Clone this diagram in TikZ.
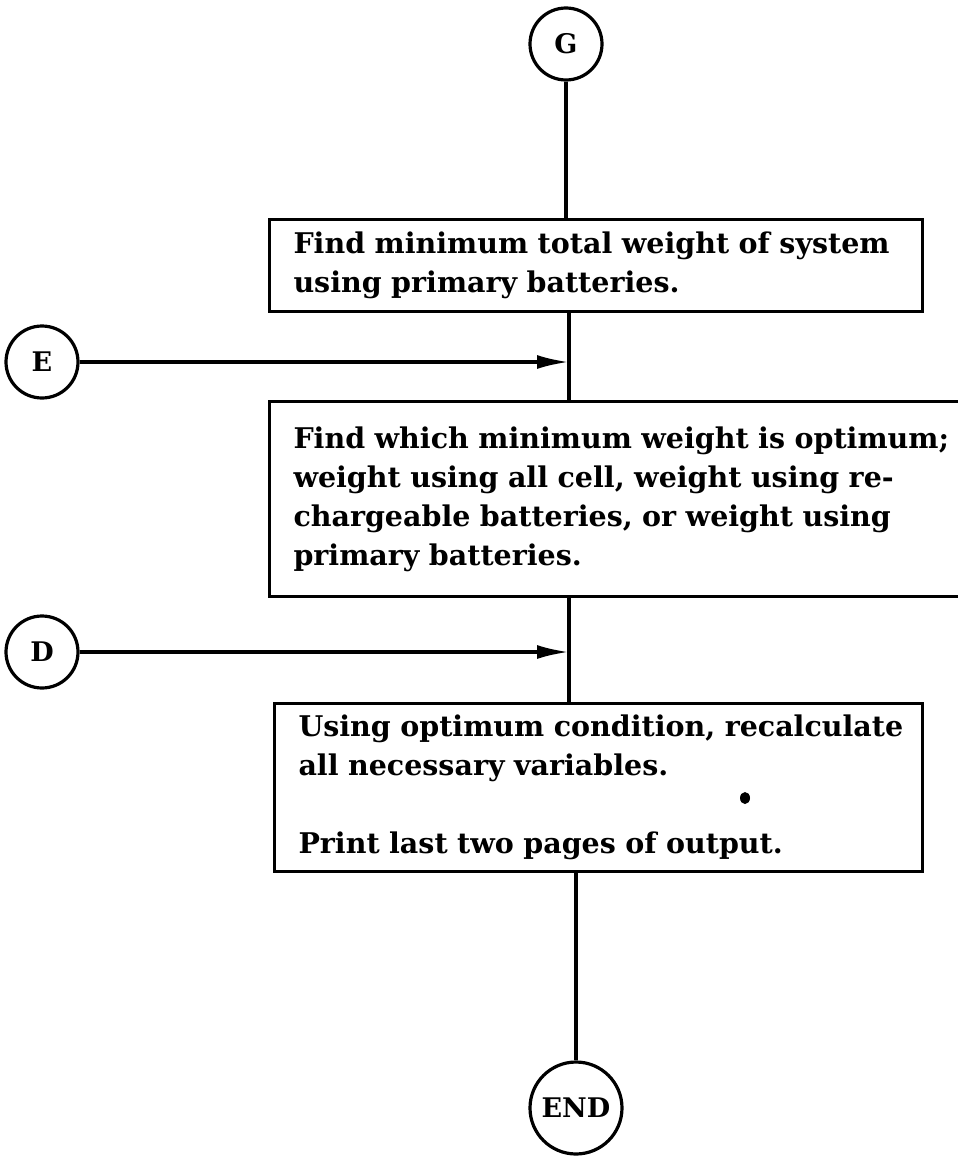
\documentclass[tikz,border=0pt]{standalone}
\usepackage{fontspec}
\setmainfont{DejaVu Serif}
\usetikzlibrary{arrows.meta}
\hyphenpenalty=10000
\begin{document}
\begin{tikzpicture}[x=1pt,y=-1pt,
  conn/.style={line width=3.4pt},
  flowarrow/.style={line width=3.4pt,-{Latex[length=32pt,width=14pt]}},
  term/.style={circle,draw,line width=3.2pt,inner sep=0pt,font=\bfseries\fontsize{27}{30}\selectfont},
  procbox/.style={draw,line width=3pt,anchor=north west,align=left,inner xsep=24pt,inner ysep=0pt,font=\bfseries\fontsize{28.5}{39}\selectfont}]
\useasboundingbox (0,0) rectangle (958,1159);
\coordinate (spine) at (569,0);
\node[term,minimum size=72pt] (G) at (566,44) {G};
\node[procbox,minimum width=653pt,minimum height=92pt,text width=605pt] (B1) at (268,218)
  {Find minimum total weight of system\\using primary batteries.};
\node[term,minimum size=72pt] (E) at (42,362) {E};
\node[procbox,minimum width=740pt,minimum height=195pt,text width=692pt] (B2) at (268,400)
  {Find which minimum weight is optimum;\\weight using all cell, weight using re-\\chargeable batteries, or weight using\\primary batteries.};
\node[term,minimum size=72pt] (D) at (42,652) {D};
\node[procbox,minimum width=648pt,minimum height=168pt,text width=600pt] (B3) at (273,702)
  {\mbox{Using optimum condition, recalculate}\\all necessary variables.\\[39pt]Print last two pages of output.};
\node[term,minimum size=92pt] (END) at (576,1108) {END};
\fill (745,798) ellipse (5pt and 6pt);
\draw[conn] (G.south) -- (G.south |- B1.north);
\draw[conn] (spine |- B1.south) -- (spine |- B2.north);
\draw[flowarrow] (E.east) -- (spine |- E.east);
\draw[conn] (spine |- B2.south) -- (spine |- B3.north);
\draw[flowarrow] (D.east) -- (spine |- D.east);
\draw[conn] (END.north |- B3.south) -- (END.north);
\end{tikzpicture}
\end{document}
